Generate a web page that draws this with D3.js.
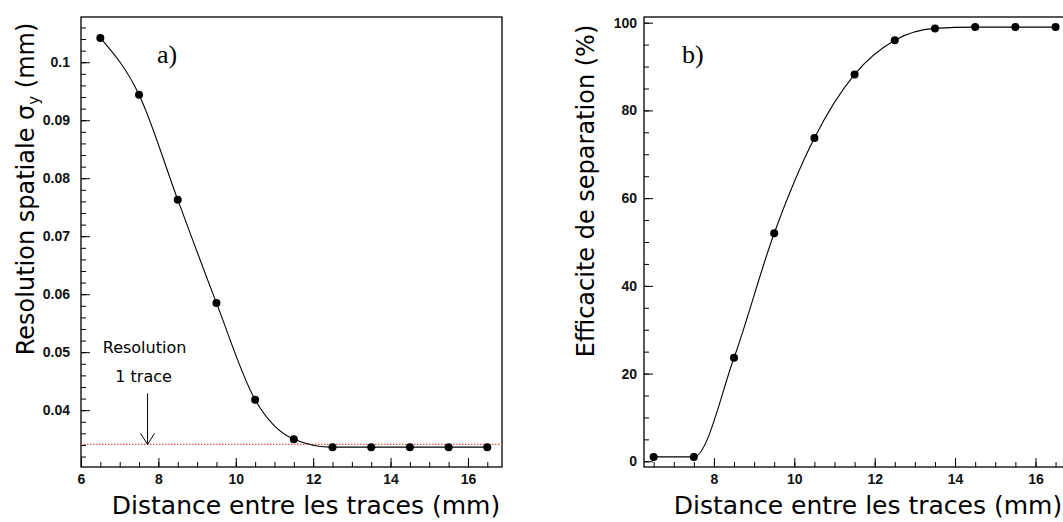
<!DOCTYPE html>
<html>
<head>
<meta charset="utf-8">
<script src="https://cdn.jsdelivr.net/npm/d3@7"></script>
<style>
  body { margin: 0; background: #fff; }
  svg { display: block; }
  .tick text { font-family: "Liberation Sans", Arial, sans-serif; font-size: 14px; font-weight: bold; fill: #111; }
</style>
</head>
<body>
<svg id="chart" width="1063" height="522"></svg>
<script>
// distances between tracks (mm), same for both panels
var distances = [6.5, 7.5, 8.5, 9.5, 10.5, 11.5, 12.5, 13.5, 14.5, 15.5, 16.5];
// panel a) spatial resolution sigma_y (mm)
var resolution = [0.1042, 0.0944, 0.0763, 0.0585, 0.0418, 0.0350, 0.03362, 0.03362, 0.03362, 0.03362, 0.03362];
// panel b) separation efficiency (%)
var efficiency = [1.0, 1.0, 23.6, 52.0, 73.7, 88.2, 96.0, 98.7, 99.0, 99.0, 99.0];
// single-track resolution reference line and arrow position
var singleTrackRes = 0.0341;
var arrowX = 7.72;

var xTicksA = [6, 8, 10, 12, 14, 16];
var xTicksB = [8, 10, 12, 14, 16];
var yTicksA = [0.04, 0.05, 0.06, 0.07, 0.08, 0.09, 0.1];
var yTicksB = [0, 20, 40, 60, 80, 100];

var svg = d3.select("#chart");
var textFont = "'DejaVu Sans', sans-serif";

function range(a, b, step) {
    var out = [];
    for (var v = a; v <= b + 1e-9; v += step) out.push(+v.toFixed(6));
    return out;
}

function drawPanel(opt) {
    var x = d3.scaleLinear().domain(opt.xDomain).range(opt.xRange);
    var y = d3.scaleLinear().domain(opt.yDomain).range([467, 17]);
    var g = svg.append("g");

    // minor ticks
    g.append("g")
        .attr("transform", "translate(0,467)")
        .call(d3.axisBottom(x).tickValues(opt.xMinor).tickSize(-5).tickSizeOuter(0).tickFormat(""))
        .call(function(s) { s.select(".domain").remove(); });
    g.append("g")
        .attr("transform", "translate(" + opt.xRange[0] + ",0)")
        .call(d3.axisLeft(y).tickValues(opt.yMinor).tickSize(-5).tickSizeOuter(0).tickFormat(""))
        .call(function(s) { s.select(".domain").remove(); });

    // major ticks with labels
    g.append("g")
        .attr("transform", "translate(0,467)")
        .call(d3.axisBottom(x).tickValues(opt.xTicks).tickSize(-9).tickPadding(7).tickSizeOuter(0).tickFormat(d3.format("d")))
        .call(function(s) { s.select(".domain").remove(); });
    g.append("g")
        .attr("transform", "translate(" + opt.xRange[0] + ",0)")
        .call(d3.axisLeft(y).tickValues(opt.yTicks).tickSize(-9).tickPadding(opt.yPad).tickSizeOuter(0).tickFormat(opt.yFormat))
        .call(function(s) { s.select(".domain").remove(); });

    g.selectAll(".tick line").attr("stroke", "#000");

    // frame
    g.append("rect")
        .attr("x", opt.xRange[0]).attr("y", 17)
        .attr("width", opt.xRange[1] - opt.xRange[0]).attr("height", 450)
        .attr("fill", "none").attr("stroke", "#000").attr("stroke-width", 1.3);

    if (opt.extra) opt.extra(g, x, y);

    var pts = distances.map(function(d, i) { return [d, opt.values[i]]; });
    g.append("path")
        .datum(pts)
        .attr("fill", "none").attr("stroke", "#000").attr("stroke-width", 1.1)
        .attr("d", d3.line().x(function(d) { return x(d[0]); }).y(function(d) { return y(d[1]); }).curve(d3.curveMonotoneX));

    g.selectAll("circle.pt")
        .data(pts).enter().append("circle")
        .attr("class", "pt")
        .attr("cx", function(d) { return x(d[0]); })
        .attr("cy", function(d) { return y(d[1]); })
        .attr("r", 4).attr("fill", "#000");

    // panel letter
    g.append("text")
        .attr("x", opt.letterX).attr("y", 63)
        .attr("font-family", "'Liberation Serif', 'DejaVu Serif', serif")
        .attr("font-size", 26)
        .text(opt.letter);

    // axis titles
    g.append("text")
        .attr("x", opt.xTitleX).attr("y", 514)
        .attr("text-anchor", "middle")
        .attr("font-family", textFont).attr("font-size", 25)
        .text("Distance entre les traces (mm)");

    var yt = g.append("text")
        .attr("transform", "translate(" + opt.yTitleX + "," + opt.yTitleY + ") rotate(-90)")
        .attr("text-anchor", "middle")
        .attr("font-family", textFont).attr("font-size", 24);
    opt.yTitle(yt);
}

drawPanel({
    xDomain: [6, 16.88], xRange: [81, 502],
    yDomain: [0.0302, 0.1078],
    xTicks: xTicksA, xMinor: range(6, 16.5, 0.5),
    yTicks: yTicksA, yMinor: range(0.032, 0.106, 0.002),
    yFormat: function(d) { return String(d); }, yPad: 11,
    values: resolution,
    letter: "a)", letterX: 157,
    xTitleX: 306, yTitleX: 34, yTitleY: 189,
    yTitle: function(t) {
        t.append("tspan").text("Resolution spatiale σ");
        t.append("tspan").attr("font-size", 15).attr("dy", 5).text("y");
        t.append("tspan").attr("dy", -5).text(" (mm)");
    },
    extra: function(g, x, y) {
        g.append("line")
            .attr("x1", x(6)).attr("x2", 502)
            .attr("y1", y(singleTrackRes)).attr("y2", y(singleTrackRes))
            .attr("stroke", "#e8505a").attr("stroke-width", 1.2)
            .attr("stroke-dasharray", "1.5,1.5");
        var ax = x(arrowX), ay = y(singleTrackRes);
        g.append("line")
            .attr("x1", ax).attr("x2", ax).attr("y1", ay - 51).attr("y2", ay)
            .attr("stroke", "#000").attr("stroke-width", 1);
        g.append("path")
            .attr("d", "M" + (ax - 7) + "," + (ay - 11) + "L" + ax + "," + ay + "L" + (ax + 7) + "," + (ay - 11))
            .attr("fill", "none").attr("stroke", "#000").attr("stroke-width", 1);
        g.append("text")
            .attr("x", ax - 3).attr("y", 353)
            .attr("text-anchor", "middle")
            .attr("font-family", textFont).attr("font-size", 16)
            .text("Resolution");
        g.append("text")
            .attr("x", ax - 4).attr("y", 382)
            .attr("text-anchor", "middle")
            .attr("font-family", textFont).attr("font-size", 16)
            .text("1 trace");
    }
});

drawPanel({
    xDomain: [6.26, 16.76], xRange: [644, 1066],
    yDomain: [-1.3, 101.3],
    xTicks: xTicksB, xMinor: range(6.5, 16.5, 0.5),
    yTicks: yTicksB, yMinor: range(0, 100, 5),
    yFormat: d3.format("d"), yPad: 7,
    values: efficiency,
    letter: "b)", letterX: 682,
    xTitleX: 868, yTitleX: 594, yTitleY: 191,
    yTitle: function(t) {
        t.text("Efficacite de separation (%)");
    }
});
</script>
</body>
</html>
